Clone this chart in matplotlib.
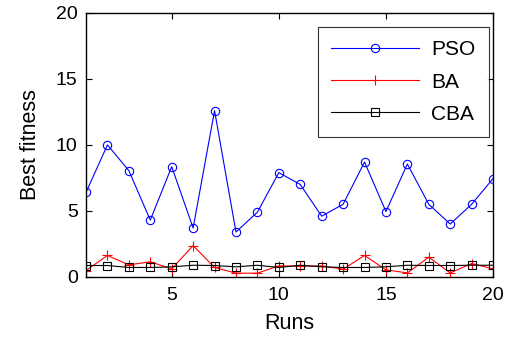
import matplotlib
matplotlib.use("Agg")
import matplotlib.pyplot as plt

runs = list(range(1, 21))
pso = [6.4, 10.0, 8.05, 4.3, 8.35, 3.7, 12.6, 3.4, 4.9, 7.9,
       7.0, 4.6, 5.5, 8.7, 4.95, 8.55, 5.5, 4.0, 5.5, 7.45]
ba = [0.48, 1.62, 0.91, 1.14, 0.61, 2.37, 0.71, 0.28, 0.28, 0.83,
      0.81, 0.83, 0.58, 1.62, 0.53, 0.30, 1.49, 0.30, 1.01, 0.61]
cba = [0.86, 0.86, 0.71, 0.71, 0.76, 0.88, 0.86, 0.76, 0.88, 0.71,
       0.88, 0.76, 0.71, 0.71, 0.76, 0.88, 0.86, 0.86, 0.88, 0.88]

plt.rcParams['font.family'] = ['Liberation Sans', 'DejaVu Sans']
TICK_FS = 14
LABEL_FS = 15.5
LEGEND_FS = 15

fig = plt.figure(figsize=(5.12, 3.5), dpi=100)
ax = fig.add_axes([0.168, 0.209, 0.795, 0.754])

ax.plot(runs, pso, color='blue', lw=0.8, marker='o', ms=6, mfc='none', mec='blue', mew=0.8, label='PSO')
ax.plot(runs, ba, color='red', lw=0.8, marker='+', ms=7, mec='red', mew=0.8, label='BA')
ax.plot(runs, cba, color='black', lw=0.8, marker='s', ms=6, mfc='none', mec='black', mew=0.8, label='CBA')

ax.set_xlim(1, 20)
ax.set_ylim(0, 20)
ax.set_xticks([5, 10, 15, 20])
ax.set_yticks([0, 5, 10, 15, 20])
ax.tick_params(direction='in', top=True, right=True, labelsize=TICK_FS, length=4, width=0.8)
ax.tick_params(axis='x', pad=7.5)
ax.tick_params(axis='y', pad=6)
for s in ax.spines.values():
    s.set_linewidth(1.0)

ax.set_xlabel('Runs', fontsize=LABEL_FS, labelpad=6.5)
ax.set_ylabel('Best fitness', fontsize=LABEL_FS, labelpad=11)

leg = ax.legend(loc='upper right', fontsize=LEGEND_FS, frameon=True, fancybox=False,
                edgecolor='black', borderpad=0.65, handlelength=4.2, handletextpad=0.6,
                labelspacing=0.63, borderaxespad=0, bbox_to_anchor=(0.99, 0.947))
leg.get_frame().set_linewidth(0.8)

fig.savefig('out.png', dpi=100)
